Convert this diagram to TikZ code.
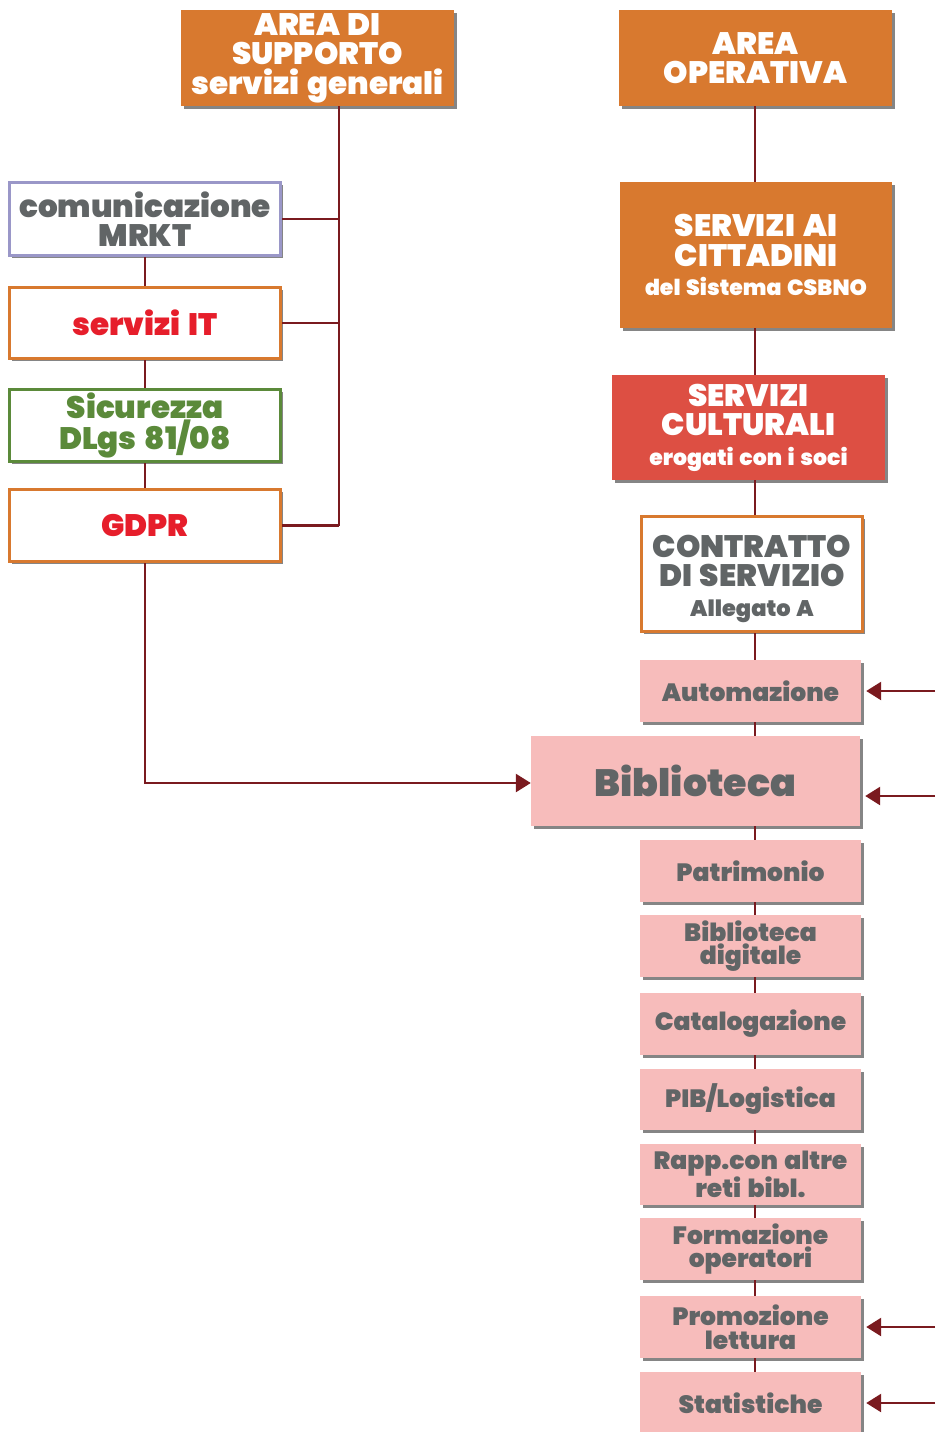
\documentclass[tikz,border=0pt]{standalone}
\usepackage{fontspec}
\setmainfont{Poppins}[BoldFont={* Black}, WordSpace=1.5]
\usetikzlibrary{shadows,arrows.meta}

\definecolor{orng}{HTML}{D8792F}
\definecolor{redbox}{HTML}{DD4F43}
\definecolor{pinkfill}{HTML}{F7BCBB}
\definecolor{txtgray}{HTML}{616566}
\definecolor{txtred}{HTML}{E61E2B}
\definecolor{grn}{HTML}{5B8A3A}
\definecolor{lav}{HTML}{9A97C8}
\definecolor{wine}{HTML}{7A1A1F}

\newcommand{\fs}[2]{\fontsize{#1}{#2}\selectfont}
% place a node by its corners: name, style, x1, y1, x2, y2, text
\newcommand{\pbox}[7]{%
  \node[#2, minimum width={#5-#3}, minimum height={#6-#4}] (#1)
    at ({(#3+#5)/2},{(#4+#6)/2}) {#7};}

\begin{document}
\begin{tikzpicture}[x=1pt,y=-1pt,
  shade/.style={drop shadow={shadow xshift=2.5pt,shadow yshift=-2.5pt,fill=black!80,opacity=0.6}},
  solidbox/.style={shade, fill=#1, text=white, inner sep=0pt, align=center,
    font=\bfseries\fs{31}{29.5}},
  solidbox/.default=orng,
  framebox/.style={shade, fill=white, draw=#1, line width=3pt, inner sep=0pt,
    align=center, font=\bfseries\fs{31}{29.5}},
  pinkbox/.style={shade, fill=pinkfill, text=txtgray, inner sep=0pt,
    align=center, font=\bfseries\fs{25}{23.5}},
  link/.style={draw=wine, line width=2.6pt},
  arr/.style={link, -{Triangle[length=15pt,width=18pt]}}
]
\useasboundingbox (0,0) rectangle (935,1432);

% guide positions of the vertical spines and the right rim
\coordinate (lsp) at (339,0);
\coordinate (rsp) at (755,0);
\coordinate (rim) at (935,0);

% top headers
\pbox{sup}{solidbox}{181}{10}{454}{106}{AREA DI\\SUPPORTO\\servizi generali}
\pbox{op}{solidbox}{619}{10}{892}{106}{AREA\\OPERATIVA}

% left column
\pbox{comm}{framebox=lav, text=txtgray}{9.5}{182.5}{280.5}{255.5}{comunicazione\\MRKT}
\pbox{it}{framebox=orng, text=txtred}{9.5}{287.5}{280.5}{358.5}{servizi IT}
\pbox{sic}{framebox=grn, text=grn}{9.5}{389.5}{280.5}{461.5}{Sicurezza\\DLgs 81/08}
\pbox{gdpr}{framebox=orng, text=txtred}{9.5}{489.5}{280.5}{561.5}{GDPR}

% right column
\pbox{cit}{solidbox}{620}{182}{892}{328}{SERVIZI AI\\CITTADINI\\{\fs{22}{24}del Sistema CSBNO}}
\pbox{cul}{solidbox=redbox}{612}{375}{885}{480}{SERVIZI\\CULTURALI\\{\fs{22}{24}erogati con i soci}}
\pbox{con}{framebox=orng, text=txtgray}{641.5}{516.5}{862.5}{631.5}{\rule{0pt}{32pt}CONTRATTO\\DI SERVIZIO\\{\fs{22.5}{24}Allegato A}}

\pbox{auto}{pinkbox}{640}{660}{861}{722}{Automazione}
\pbox{bib}{pinkbox, font=\bfseries\fs{38}{40}}{531}{736}{860}{826}{Biblioteca}
\pbox{pat}{pinkbox}{640}{840}{861}{902}{Patrimonio}
\pbox{dig}{pinkbox}{640}{915}{861}{977}{Biblioteca\\digitale}
\pbox{cat}{pinkbox}{640}{993}{861}{1055}{Catalogazione}
\pbox{pib}{pinkbox}{640}{1069}{861}{1130}{PIB/Logistica}
\pbox{rapp}{pinkbox}{640}{1144}{861}{1205}{Rapp.con altre\\reti bibl.}
\pbox{form}{pinkbox}{640}{1218}{861}{1280}{Formazione\\operatori}
\pbox{prom}{pinkbox}{640}{1296}{861}{1358}{Promozione\\lettura}
\pbox{stat}{pinkbox}{640}{1372}{861}{1434}{Statistiche}

% support spine and its branches
\draw[link] (sup.south -| lsp) -- (gdpr.east -| lsp);
\foreach \n in {comm,it,gdpr}
  \draw[link] (\n.east) -- (\n.east -| lsp);

% left chain and link to the library
\draw[link] (comm) -- (it);
\draw[link] (it) -- (sic);
\draw[link] (sic) -- (gdpr);
\draw[arr] (gdpr.south) |- ([yshift=-2pt]bib.west);

% operative chain
\foreach \a/\b in {op/cit,cit/cul,cul/con,con/auto,auto/bib,bib/pat,pat/dig,dig/cat,cat/pib,pib/rapp,rapp/form,form/prom,prom/stat}
  \draw[link] (\a.south -| rsp) -- (\b.north -| rsp);

% incoming arrows from the right
\draw[arr, shorten >=5pt] (auto.east -| rim) -- (auto.east);
\draw[arr, shorten >=5pt] ([yshift=-15pt]bib.east -| rim) -- ([yshift=-15pt]bib.east);
\draw[arr, shorten >=5pt] (prom.east -| rim) -- (prom.east);
\draw[arr, shorten >=5pt] (stat.east -| rim) -- (stat.east);
\end{tikzpicture}
\end{document}
